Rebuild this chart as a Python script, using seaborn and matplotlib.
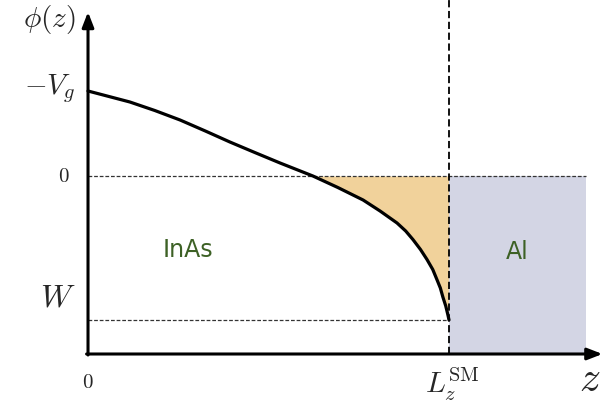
import numpy as np
import pandas as pd
import seaborn as sns
from matplotlib import pyplot as plt

# potential profile (z in units of L_z^SM)
z_vals = [0.0, 0.058, 0.116, 0.185, 0.255, 0.325, 0.393, 0.462, 0.532, 0.623, 0.692, 0.762, 0.809,
          0.856, 0.880, 0.900, 0.921, 0.939, 0.955, 0.967, 0.976, 0.983, 0.991, 0.997, 1.0]
phi_vals = [0.85, 0.795, 0.74, 0.655, 0.56, 0.45, 0.34, 0.235, 0.13, 0.0, -0.115, -0.24, -0.35,
            -0.47, -0.55, -0.635, -0.735, -0.835, -0.935, -1.04, -1.12, -1.21, -1.30, -1.39, -1.44]
phi_Vg = 0.85
phi_W = -1.44
z_cross = 0.623
z_L = 1.0
z_Al_end = 1.38
axis_bottom = -1.78

ytick_labels = [r'$-V_g$', r'$0$', r'$W$']
region_labels = ['InAs', 'Al']

sns.set_style("white")
plt.rcParams['mathtext.fontset'] = 'cm'

df = pd.DataFrame({'z': z_vals, 'phi': phi_vals})

fig = plt.figure(figsize=(6.16, 4.13), dpi=100)
ax = fig.add_axes([0, 0, 1, 1])
ax.set_xlim(-0.2438, 1.4626)
ax.set_ylim(-2.37, 1.76)
ax.axis('off')

# shaded regions
part = df[df['z'] >= z_cross]
ax.fill_between(part['z'], part['phi'], 0, color='#f1d29b', lw=0, zorder=1)
ax.fill_between([z_L, z_Al_end], axis_bottom, 0, color='#d3d5e4', lw=0, zorder=1)

# dashed guides
ax.plot([0, z_Al_end], [0, 0], ls=(0, (3, 1.5)), color='#333333', lw=0.9, zorder=2)
ax.plot([0, z_L], [phi_W, phi_W], ls=(0, (3, 1.5)), color='#333333', lw=0.9, zorder=2)
ax.plot([z_L, z_L], [axis_bottom, 1.76], ls=(0, (4, 2)), color='black', lw=1.3, zorder=3)

# curve
sns.lineplot(data=df, x='z', y='phi', ax=ax, color='black', lw=2.3, zorder=4, sort=False)

# axes with arrows
ax.annotate('', xy=(1.425, axis_bottom), xytext=(-0.004, axis_bottom),
            arrowprops=dict(arrowstyle='-|>,head_length=0.9,head_width=0.35', color='black', lw=2.2,
                            shrinkA=0, shrinkB=0), zorder=5)
ax.annotate('', xy=(0, 1.64), xytext=(0, axis_bottom - 0.01),
            arrowprops=dict(arrowstyle='-|>,head_length=0.9,head_width=0.35', color='black', lw=2.2,
                            shrinkA=0, shrinkB=0), zorder=5)

# labels
ax.text(-0.035, 1.57, r'$\phi(z)$', fontsize=21, ha='right', va='center')
ax.text(-0.035, phi_Vg + 0.02, ytick_labels[0], fontsize=21, ha='right', va='center')
ax.text(-0.05, 0, ytick_labels[1], fontsize=15, ha='right', va='center')
ax.text(-0.035, -1.22, ytick_labels[2], fontsize=23, ha='right', va='center')
ax.text(0, -2.06, r'$0$', fontsize=15, ha='center', va='center')
ax.text(z_L + 0.01, -2.08, r'$L_z^{\mathrm{SM}}$', fontsize=21, ha='center', va='center')
ax.text(1.39, -2.03, r'$z$', fontsize=30, ha='center', va='center')

ax.text(0.277, -0.74, region_labels[0], fontsize=17, color='#3d6125', ha='center', va='center')
ax.text(1.188, -0.76, region_labels[1], fontsize=17, color='#3d6125', ha='center', va='center')

fig.savefig('out.png', dpi=100)
